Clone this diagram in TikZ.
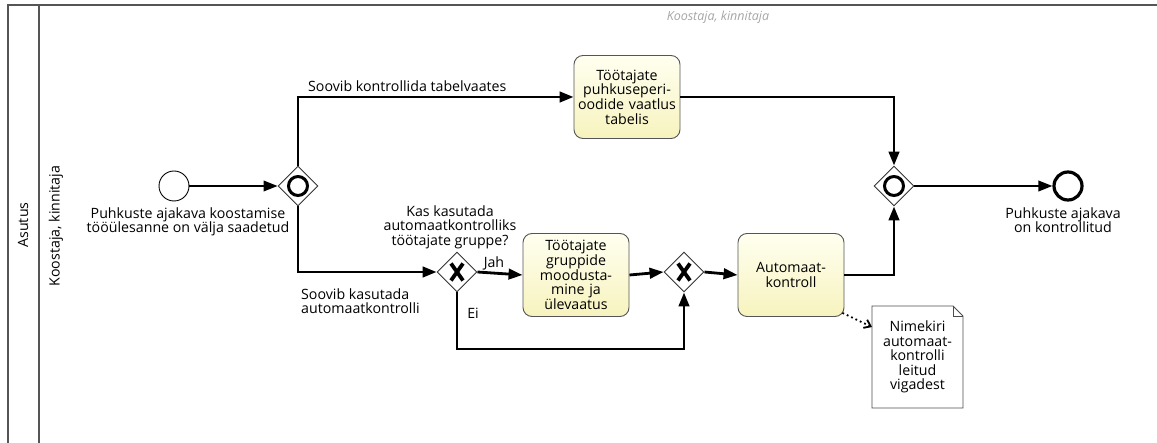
\documentclass[tikz,border=0pt]{standalone}
\usepackage{fontspec}
\setmainfont{Open Sans}
\usetikzlibrary{arrows.meta,shapes.geometric,calc}
\definecolor{poolline}{HTML}{555555}
\definecolor{taskborder}{HTML}{555555}
\definecolor{tasktop}{HTML}{FFFFF0}
\definecolor{taskbot}{HTML}{F7F3BE}
\begin{document}
\begin{tikzpicture}[x=1pt,y=-1pt,
  font=\fontsize{14.2}{14.6}\selectfont,
  flow/.style={line width=2.8pt,-{Triangle[length=14pt,width=10.5pt]}},
  thinflow/.style={line width=2pt,-{Triangle[length=14pt,width=10.5pt]}},
  task/.style={rectangle,rounded corners=9pt,draw=taskborder,line width=0.9pt,
    top color=tasktop,bottom color=taskbot,minimum width=104pt,minimum height=83pt,
    align=center,inner sep=1pt,text width=104pt},
  gateway/.style={diamond,draw=black!80,line width=0.9pt,fill=white,
    minimum width=40pt,minimum height=40pt,inner sep=0pt},
  lbl/.style={align=center,inner sep=0pt},
  evt/.style={circle,draw=black,minimum size=30pt,inner sep=0pt,fill=white}]
\useasboundingbox (0,0) rectangle (1157,443);

% pool and lane
\draw[poolline,line width=1.3pt] (1157,5) -- (8,5) -- (8,443);
\draw[poolline,line width=1.3pt] (39,5) -- (39,443);
\node[rotate=90,lbl] (pool) at (23,225) {Asutus};
\node[rotate=90,lbl] (lane) at (56,226) {Koostaja, kinnitaja};
\node[lbl,text=black!35,font=\fontsize{12.5}{14}\selectfont\itshape] (title) at (718,17) {Koostaja, kinnitaja};

% events
\node[evt,line width=0.9pt] (start) at (174,186) {};
\node[lbl] (startlbl) at (188,222) {Puhkuste ajakava koostamise\\tööülesanne on välja saadetud};
\node[evt,line width=3.2pt,minimum size=28pt] (end) at (1068,186) {};
\node[lbl] (endlbl) at (1063,220) {Puhkuste ajakava\\on kontrollitud};

% gateways
\node[gateway] (g1) at (298,186) {};
\draw[line width=3pt] (g1) circle (9.5pt);
\node[gateway] (g2) at (457,272) {};
\node[gateway] (g4) at (684,272) {};
\foreach \g in {g2,g4}{
  \draw[line width=3.8pt] ($(\g)+(-6,-8.5)$) -- ($(\g)+(6,8.5)$);
  \draw[line width=3.8pt] ($(\g)+(6,-8.5)$) -- ($(\g)+(-6,8.5)$);
}
\node[gateway] (g3) at (894,186) {};
\draw[line width=3pt] (g3) circle (9.5pt);

% tasks
\node[task] (t1) at (627,97) {Töötajate\\puhkuseperi-\\oodide vaatlus\\tabelis};
\node[task] (t2) at (576,275) {Töötajate\\gruppide\\moodusta-\\mine ja\\ülevaatus};
\node[task] (t3) at (791,275) {Automaat-\\kontroll};

% data object: page with folded corner
\draw[black!70,line width=0.9pt] (872,306) -- (953,306) -- (963,316) -- (963,408) -- (872,408) -- cycle;
\draw[black!70,line width=0.9pt] (953,306) -- (953,316) -- (963,316);
\node[lbl,text width=90pt] (note) at (917.5,357) {Nimekiri\\automaat-\\kontrolli\\leitud\\vigadest};

% sequence flows
\draw[thinflow] (start) -- (g1.west);
\draw[flow] (g1.north) |- (t1.west);
\draw[flow] (t1.east) -| (g3.north);
\draw[flow] (g1.south) |- (g2.west);
\draw[flow] (g2.east) -- (t2.west);
\draw[flow] (t2.east) -- (g4.west);
\coordinate (eiturn) at (457,349);
\draw[flow] (g2.south) -- (eiturn) -| (g4.south);
\draw[flow] (g4.east) -- (t3.west);
\draw[flow] (t3.east) -| (g3.south);
\draw[thinflow] (g3.east) -- (end.west);

% data association
\coordinate (assocend) at (872,327);
\draw[line width=1.8pt,dash pattern=on 1.8pt off 3pt,-{Straight Barb[length=6pt,width=9pt]}] ($(t3.south east)+(-2,-4)$) -- (assocend);

% flow labels
\node[lbl,anchor=west] (l1) at (308,86) {Soovib kontrollida tabelvaates};
\node[lbl,anchor=west,align=left] (l2) at (301,301) {Soovib kasutada\\automaatkontrolli};
\node[lbl] (q) at (450,227) {Kas kasutada\\automaatkontrolliks\\töötajate gruppe?};
\node[lbl] (jah) at (494,263) {Jah};
\node[lbl] (ei) at (473,313) {Ei};
\end{tikzpicture}
\end{document}
